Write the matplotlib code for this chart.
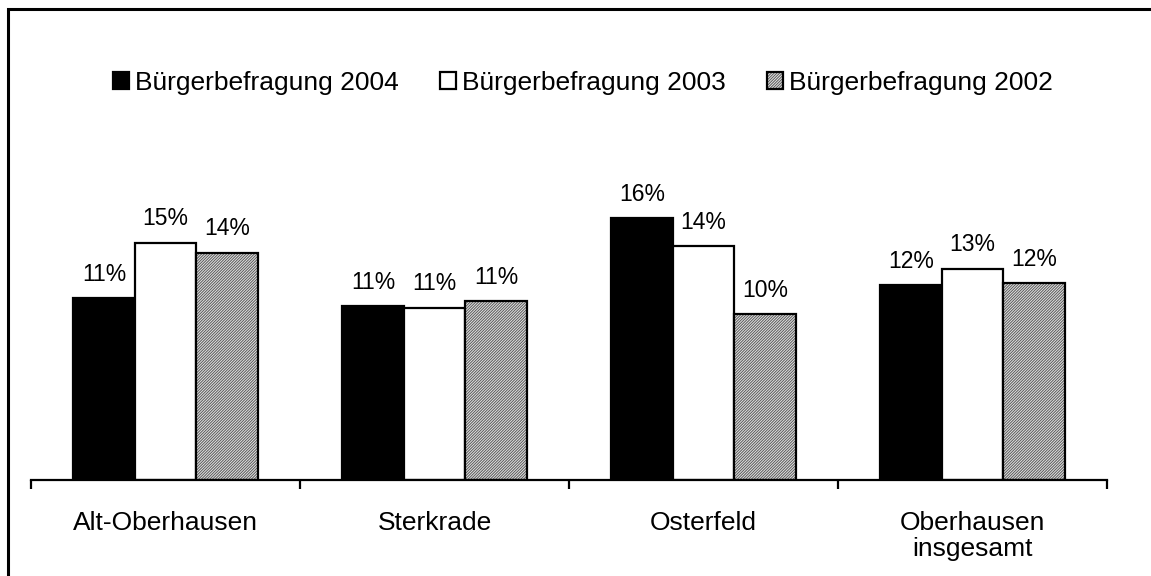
import numpy as np
import matplotlib.pyplot as plt
from matplotlib.patches import Rectangle

plt.rcParams['font.family'] = ['Liberation Sans', 'DejaVu Sans']
plt.rcParams['hatch.linewidth'] = 0.7

# Data
categories = ['Alt-Oberhausen', 'Sterkrade', 'Osterfeld', 'Oberhausen\ninsgesamt']
series_names = ['Bürgerbefragung 2004', 'Bürgerbefragung 2003', 'Bürgerbefragung 2002']
values_2004 = [11.2, 10.7, 16.1, 12.0]
values_2003 = [14.6, 10.6, 14.4, 13.0]
values_2002 = [14.0, 11.0, 10.2, 12.1]
labels_2004 = ['11%', '11%', '16%', '12%']
labels_2003 = ['15%', '11%', '14%', '13%']
labels_2002 = ['14%', '11%', '10%', '12%']

series = [values_2004, values_2003, values_2002]
series_labels = [labels_2004, labels_2003, labels_2002]
styles = [
    dict(facecolor='black', hatch=None),
    dict(facecolor='white', hatch=None),
    dict(facecolor='#e4e4e4', hatch='/' * 12),
]

fig = plt.figure(figsize=(11.51, 5.76), dpi=100)
ax = fig.add_axes([31 / 1151, 96 / 576, 1076 / 1151, 330 / 576])

x = np.arange(len(categories))
width = 0.229
for i, (vals, labs, st) in enumerate(zip(series, series_labels, styles)):
    bars = ax.bar(x + (i - 1) * width, vals, width, facecolor=st['facecolor'],
                  edgecolor='black', hatch=st['hatch'], linewidth=1.6,
                  label=series_names[i], zorder=2)
    if st['hatch']:
        for b in bars:
            b._hatch_color = (0.35, 0.35, 0.35, 1.0)
    for b, lab in zip(bars, labs):
        ax.annotate(lab, (b.get_x() + b.get_width() / 2, b.get_height()),
                    xytext=(0, 12.5), textcoords='offset points',
                    ha='center', va='baseline', fontsize=16.5)

ax.set_xlim(-0.5, len(categories) - 0.5)
ax.set_ylim(0, 330 / 16.25)
for s in ['top', 'right', 'left']:
    ax.spines[s].set_visible(False)
ax.spines['bottom'].set_linewidth(1.6)
ax.set_yticks([])
ax.set_xticks(x)
ax.set_xticklabels(categories, fontsize=19, linespacing=1.15)
ax.tick_params(axis='x', which='major', length=0, pad=22)
ax.set_xticks(np.arange(-0.5, len(categories)), minor=True)
ax.tick_params(axis='x', which='minor', length=6.5, width=1.6, direction='out')

fig.legend(loc='center', bbox_to_anchor=(583 / 1151, 1 - 83 / 576), ncol=3,
           frameon=False, fontsize=19, handlelength=0.6, handleheight=0.6,
           handletextpad=0.25, columnspacing=1.55)

# frame around the chart (cut off at right and bottom)
fig.patches.append(Rectangle((8 / 1151, -0.05), 1.1, 1.05 - 9 / 576,
                             transform=fig.transFigure, fill=False,
                             edgecolor='black', linewidth=2.2))

fig.savefig('out.png', dpi=100)
